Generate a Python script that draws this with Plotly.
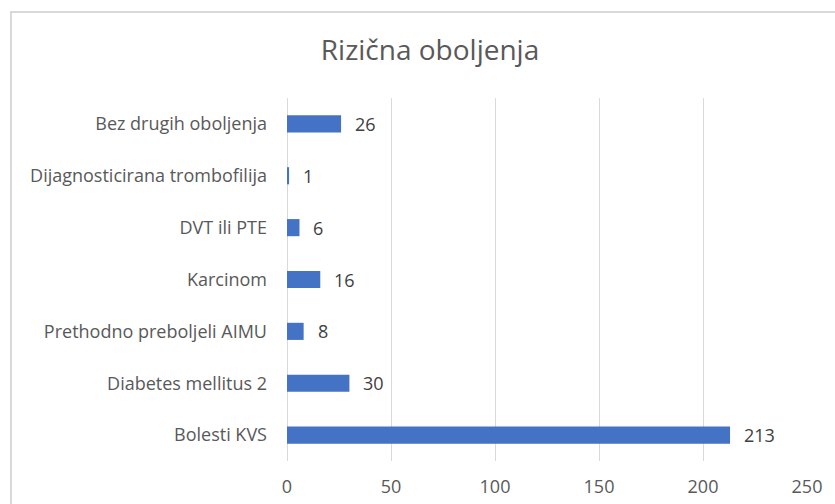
import plotly.graph_objects as go

categories = ["Bolesti KVS", "Diabetes mellitus 2", "Prethodno preboljeli AIMU",
              "Karcinom", "DVT ili PTE", "Dijagnosticirana trombofilija",
              "Bez drugih oboljenja"]
values = [213, 30, 8, 16, 6, 1, 26]
x_ticks = [0, 50, 100, 150, 200, 250]

FONT = "Segoe UI, Open Sans, sans-serif"
TXT = "#595959"

fig = go.Figure()
fig.add_trace(go.Bar(
    x=values, y=categories, orientation="h",
    marker=dict(color="#4472C4", line=dict(width=0)),
    width=0.33, hoverinfo="x+y",
))

for v, c in zip(values, categories):
    fig.add_annotation(x=v, y=c, text=str(v), showarrow=False,
                       xanchor="left", xshift=12,
                       font=dict(family=FONT, size=18, color="#404040"))

L, R, T, B = 287, 28, 98, 43
W, H = 835, 504
pw, ph = W - L - R, H - T - B

def px(x):
    return (x - L) / pw

def py(y):
    return (H - B - y) / ph

fig.add_shape(type="rect", xref="paper", yref="paper",
              x0=px(11), x1=px(845), y0=py(514), y1=py(12),
              line=dict(color="#d9d9d9", width=2), fillcolor="rgba(0,0,0,0)")

fig.update_layout(
    width=W, height=H,
    margin=dict(l=L, r=R, t=T, b=B, pad=0, autoexpand=False),
    paper_bgcolor="white", plot_bgcolor="white",
    title=dict(text="Rizična oboljenja", xref="container", x=430 / W,
               xanchor="center", yref="container",
               y=1 - 50 / H, yanchor="middle",
               font=dict(family=FONT, size=28, color=TXT)),
    xaxis=dict(range=[0, 250], tickvals=x_ticks, showgrid=True,
               gridcolor="#d9d9d9", gridwidth=1, zeroline=True,
               zerolinecolor="#d9d9d9", zerolinewidth=1, showline=False,
               ticks="", ticklabelstandoff=13,
               tickfont=dict(family=FONT, size=18, color=TXT)),
    yaxis=dict(range=[-0.5, 6.5], showgrid=False, zeroline=False,
               showline=False, ticks="", ticklabelstandoff=19,
               categoryorder="array", categoryarray=categories,
               tickfont=dict(family=FONT, size=18, color=TXT)),
    showlegend=False,
)

fig.write_html("out.html", config={"displayModeBar": False},
               post_script="document.body.style.margin='0';document.body.style.overflow='hidden';")
